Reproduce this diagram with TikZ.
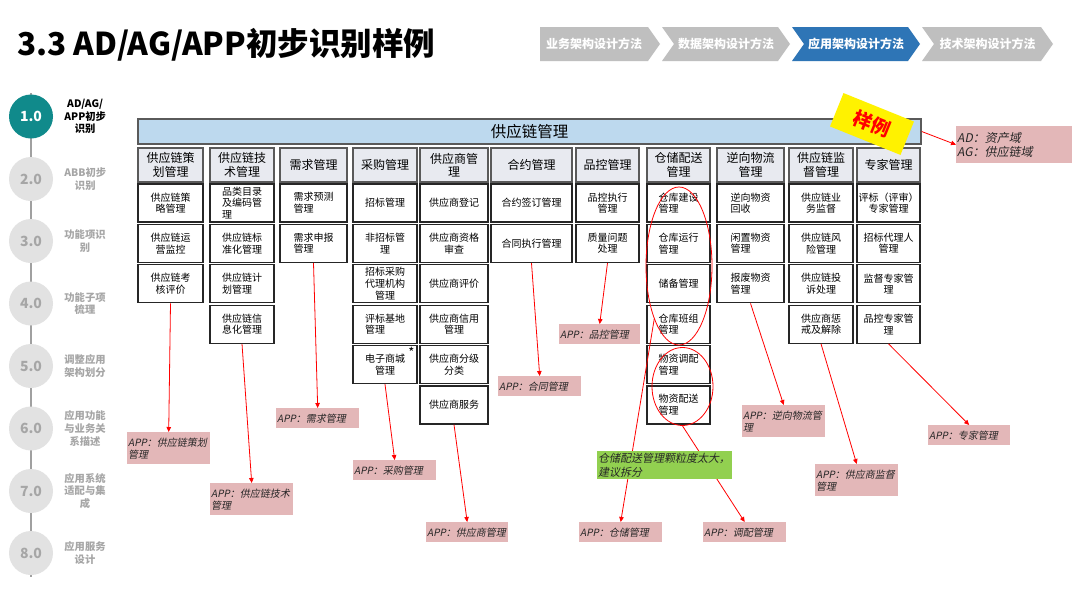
\documentclass[tikz,border=0pt]{standalone}
\usepackage{fontspec}
\setmainfont{Noto Sans CJK SC}
\newfontfamily\slantcjk[FakeSlant=0.2]{Noto Sans CJK SC}
\usepackage{tikz}
\usetikzlibrary{positioning, arrows.meta, shapes.geometric}

\definecolor{hdrfill}{HTML}{E8EAF0}
\definecolor{hdrline}{HTML}{5A5A5A}
\definecolor{barblue}{HTML}{BDD9EE}
\definecolor{apppink}{HTML}{E3B7B8}
\definecolor{notegreen}{HTML}{92D050}
\definecolor{tealdot}{HTML}{108A8B}
\definecolor{dotgray}{HTML}{E2E2E2}
\definecolor{txtgray}{HTML}{A6A6A6}
\definecolor{railgray}{HTML}{A0A0A0}
\definecolor{chevgray}{HTML}{BFBFBF}
\definecolor{chevblue}{HTML}{2E75B6}

\begin{document}
\begin{tikzpicture}[x=1pt, y=-1pt,
    hdr/.style={draw=hdrline, line width=1.4pt, fill=hdrfill, minimum height=34pt,
      inner sep=1pt, align=center, font=\fontsize{12}{13.5}\selectfont},
    cell/.style={draw=black!85, line width=1.2pt, fill=white, minimum height=38pt,
      inner sep=1pt, font=\fontsize{10}{11.6}\selectfont},
    apptag/.style={fill=apppink, anchor=north west, inner xsep=1pt, inner ysep=1pt,
      align=left, text=black!85, font=\slantcjk\fontsize{10}{12}\selectfont},
    link/.style={draw=red, line width=0.8pt, -{Triangle[length=5pt, width=4.5pt]}},
    ring/.style={draw=red, line width=0.8pt, ellipse, inner sep=0pt},
    stepdot/.style={circle, fill=dotgray, minimum size=44pt, inner sep=0pt,
      text=txtgray, font=\bfseries\fontsize{14}{14}\selectfont},
    steptxt/.style={inner sep=0pt, align=center, text=txtgray,
      font=\bfseries\fontsize{10.3}{12.8}\selectfont}]

    \fill[white] (0,0) rectangle (1080,608);
    \useasboundingbox (0,0) rectangle (1080,608);

    % Title
    \node[anchor=base west, inner sep=0pt, font=\bfseries\fontsize{31.5}{36}\selectfont]
      (title) at (17,55) {3.3 AD/AG/APP初步识别样例};

    % Chevrons
    \foreach \k/\a/\b/\d/\c/\txt in {1/540/660/0/chevgray/业务架构设计方法,
        2/662/790/12/chevgray/数据架构设计方法, 3/792/920/12/chevblue/应用架构设计方法,
        4/922/1053/12/chevgray/技术架构设计方法} {
      \fill[\c] (\a,27) -- ({\b-12},27) -- (\b,44) -- ({\b-12},61) -- (\a,61)
        -- ({\a+\d},44) -- cycle;
      \node[text=white, font=\bfseries\fontsize{12}{12}\selectfont]
        (chev\k) at ({(\a+\d+\b-12)/2},44) {\txt};
    }

    % Step rail
    \draw[railgray, line width=2pt] (31,93) -- (31,577);
    \node[stepdot, fill=tealdot, text=white] (s1) at (31,116.5) {1.0};
    \node[steptxt, text=black, right=11pt of s1] (s1-txt) {AD/AG/\\APP初步\\识别};
    \foreach \n/\y/\txt in {2/179/{ABB初步\\识别}, 3/241/{功能项识\\别},
        4/303.5/{功能子项\\梳理}, 5/366/{调整应用\\架构划分},
        6/428.5/{应用功能\\与业务关\\系描述}, 7/491/{应用系统\\适配与集\\成},
        8/553/{应用服务\\设计}} {
      \node[stepdot] (s\n) at (31,\y) {\n.0};
      \node[steptxt, right=11pt of s\n] (s\n-txt) {\txt};
    }

    % Domain bar
    \node[draw=hdrline, line width=1.4pt, fill=barblue, minimum width=783pt,
      minimum height=25pt, font=\fontsize{15.5}{15.5}\selectfont] (bar) at (529.5,131.5) {供应链管理};

    % Columns
    \foreach \col/\x/\w/\head/\items in {
        1/170.5/65/{供应链策\\划管理}/{center/{供应链策\\略管理},center/{供应链运\\营监控},center/{供应链考\\核评价}},
        2/242/64/{供应链技\\术管理}/{left/{品类目录\\及编码管\\理},left/{供应链标\\准化管理},left/{供应链计\\划管理},left/{供应链信\\息化管理}},
        3/313.5/67/{需求管理}/{left/{需求预测\\管理},left/{需求申报\\管理}},
        4/385/64/{采购管理}/{center/{招标管理},center/{非招标管\\理},center/{招标采购\\代理机构\\管理},left/{评标基地\\管理},center/{电子商城\\管理}},
        5/454/68/{供应商管\\理}/{center/{供应商登记},center/{供应商资格\\审查},center/{供应商评价},center/{供应商信用\\管理},center/{供应商分级\\分类},center/{供应商服务}},
        6/531.5/81/{合约管理}/{center/{合约签订管理},center/{合同执行管理}},
        7/607.5/63/{品控管理}/{center/{品控执行\\管理},center/{质量问题\\处理}},
        8/678.5/63/{仓储配送\\管理}/{left/{仓库建设\\管理},left/{仓库运行\\管理},center/{储备管理},left/{仓库班组\\管理},left/{物资调配\\管理},left/{物资配送\\管理}},
        9/750.5/67/{逆向物流\\管理}/{left/{逆向物资\\回收},left/{闲置物资\\管理},left/{报废物资\\管理}},
        10/821/64/{供应链监\\督管理}/{center/{供应链业\\务监督},center/{供应链风\\险管理},center/{供应链投\\诉处理},left/{供应商惩\\戒及解除}},
        11/888.5/63/{专家管理}/{center/{评标（评审）\\专家管理},center/{招标代理人\\管理},center/{监督专家管\\理},center/{品控专家管\\理}}} {
      \node[hdr, minimum width=\w] (h\col) at (\x,165) {\head};
      \foreach \al/\txt [count=\i] in \items
        \node[cell, align=\al, minimum width=\w] (c\col-\i) at (\x,{162.6+40.4*\i}) {\txt};
    }
    \node[anchor=north east, inner sep=0pt, font=\fontsize{13}{13}\selectfont]
      (star) at ([xshift=-3pt, yshift=-2pt]c4-5.north east) {*};

    % Rings around the split candidates
    \node[ring, minimum width=66pt, minimum height=158pt] (bigring) at (679,266) {};
    \node[ring, minimum width=61pt, minimum height=78pt] (smallring) at (682.5,386.5) {};

    % Stamp and domain note
    \node[fill=yellow, text=red, rotate=-22, minimum width=76pt, minimum height=36pt,
      font=\bfseries\fontsize{19}{19}\selectfont] (stamp) at (872,124) {样例};
    \node[fill=apppink, anchor=north west, text width=114pt, minimum height=37pt,
      inner xsep=1pt, inner ysep=1pt, align=left, text=black!85,
      font=\slantcjk\fontsize{12}{14}\selectfont] (adag) at (956,126) {AD：资产域\\AG：供应链域};

    % APP tags
    \node[apptag, text width=81pt, minimum height=32pt] (a1) at (127,432) {APP：供应链策划\\管理};
    \node[apptag, text width=81pt, minimum height=32pt] (a2) at (210,483) {APP：供应链技术\\管理};
    \node[apptag, text width=81pt, minimum height=20pt] (a3) at (276,408) {APP：需求管理};
    \node[apptag, text width=81pt, minimum height=20pt] (a4) at (353,460) {APP：采购管理};
    \node[apptag, text width=80pt, minimum height=20pt] (a5) at (426,522) {APP：供应商管理};
    \node[apptag, text width=81pt, minimum height=20pt] (a6) at (498,376) {APP：合同管理};
    \node[apptag, text width=79pt, minimum height=20pt] (a7) at (559,324) {APP：品控管理};
    \node[apptag, text width=81pt, minimum height=32pt] (a8) at (742,405) {APP：逆向物流管\\理};
    \node[apptag, text width=81pt, minimum height=32pt] (a9) at (815,464) {APP：供应商监督\\管理};
    \node[apptag, text width=80pt, minimum height=20pt] (a10) at (928,425) {APP：专家管理};
    \node[apptag, text width=81pt, minimum height=20pt] (a11) at (579,522) {APP：仓储管理};
    \node[apptag, text width=81pt, minimum height=20pt] (a12) at (703,522) {APP：调配管理};

    % Links
    \draw[link] (bar.east) -- (adag.west);
    \draw[link] (c1-3.south) -- (a1.north);
    \draw[link] (c2-4.south) -- (a2.north);
    \draw[link] (c3-2.south) -- (a3.north);
    \draw[link] (c4-5.south) -- (a4.north);
    \draw[link] (c5-6.south) -- (a5.north);
    \draw[link] (c6-2.south) -- (a6.north);
    \draw[link] (c7-2.south) -- (a7.north);
    \draw[link] (c9-3.south) -- (a8.north);
    \draw[link] (c10-4.south) -- (a9.north);
    \draw[link] (c11-4.south) -- (a10.north);
    \draw[link] (bigring.245) -- (a11.north);
    \draw[link] (smallring.south) -- (a12.north);

    % Granularity note
    \node[fill=notegreen, anchor=north west, text width=133pt, minimum height=28pt,
      inner xsep=1pt, inner ysep=1pt, align=left, text=black!85,
      font=\slantcjk\fontsize{11}{13.5}\selectfont] (note) at (597,451) {仓储配送管理颗粒度太大，\\建议拆分};
\end{tikzpicture}
\end{document}
